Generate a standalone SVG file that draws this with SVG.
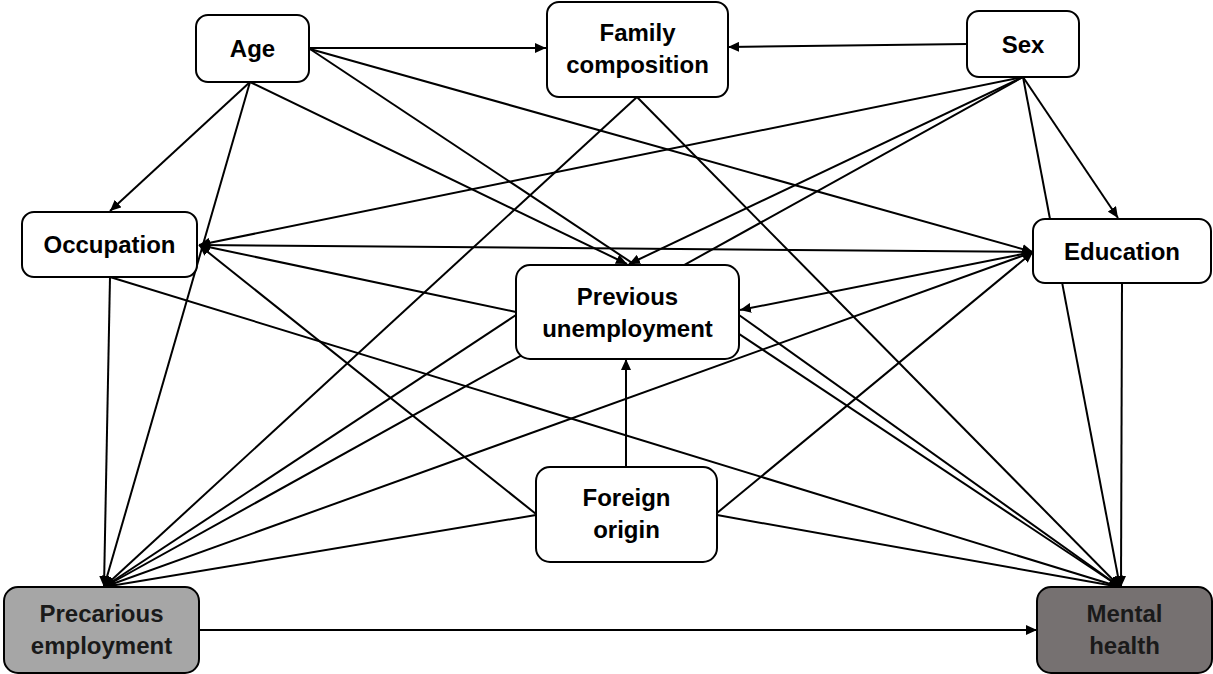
<svg xmlns="http://www.w3.org/2000/svg" width="1213" height="674" viewBox="0 0 1213 674">
<style>
.edge{stroke:#000;stroke-width:2;fill:none;marker-end:url(#arr)}
.box{stroke:#000;stroke-width:2;fill:#fff}
.lbl{font-family:"Liberation Sans",Arial,sans-serif;font-weight:bold;font-size:24px;fill:#000;text-anchor:middle}
</style>
<defs>
<marker id="arr" markerUnits="userSpaceOnUse" markerWidth="12" markerHeight="10" refX="11" refY="5" orient="auto">
<path d="M0,0 L11,5 L0,10 z" fill="#000"/>
</marker>
</defs>
<rect width="1213" height="674" fill="#fff"/>
<g id="connectors">
<line class="edge" x1="309" y1="48" x2="546" y2="48"/>
<line class="edge" x1="967" y1="44" x2="728" y2="47"/>
<line class="edge" x1="250" y1="82" x2="110" y2="211"/>
<line class="edge" x1="250" y1="82" x2="104" y2="587"/>
<line class="edge" x1="250" y1="82" x2="627" y2="264"/>
<line class="edge" x1="310" y1="49" x2="1033" y2="252"/>
<line class="edge" x1="310" y1="49" x2="1120" y2="587"/>
<line class="edge" x1="1023" y1="77" x2="199" y2="245"/>
<line class="edge" x1="1023" y1="77" x2="629" y2="264"/>
<line class="edge" x1="1023" y1="77" x2="104" y2="587"/>
<line class="edge" x1="1023" y1="77" x2="1120" y2="587"/>
<line class="edge" x1="1023" y1="77" x2="1118" y2="218"/>
<line class="edge" x1="637" y1="97" x2="104" y2="587"/>
<line class="edge" x1="637" y1="97" x2="1120" y2="587"/>
<line class="edge" x1="1033" y1="252" x2="199" y2="245"/>
<line class="edge" x1="1033" y1="252" x2="740" y2="310"/>
<line class="edge" x1="1033" y1="252" x2="104" y2="587"/>
<line class="edge" x1="1122" y1="283" x2="1121" y2="587"/>
<line class="edge" x1="516" y1="312" x2="199" y2="245"/>
<line class="edge" x1="516" y1="315" x2="104" y2="587"/>
<line class="edge" x1="739" y1="315" x2="1120" y2="587"/>
<line class="edge" x1="626" y1="467" x2="626" y2="359"/>
<line class="edge" x1="536" y1="514" x2="199" y2="245"/>
<line class="edge" x1="717" y1="513" x2="1033" y2="252"/>
<line class="edge" x1="536" y1="515" x2="104" y2="587"/>
<line class="edge" x1="717" y1="515" x2="1120" y2="587"/>
<line class="edge" x1="110" y1="277" x2="104" y2="587"/>
<line class="edge" x1="110" y1="277" x2="1120" y2="587"/>
<line class="edge" x1="199" y1="630" x2="1037" y2="630"/>
</g>
<g id="age">
<rect class="box" x="196" y="15" width="113" height="67" rx="12"/>
<text class="lbl" x="252.5" y="57">Age</text>
</g>
<g id="family">
<rect class="box" x="547" y="2" width="181" height="95" rx="12"/>
<text class="lbl" x="637.5" y="41">Family</text>
<text class="lbl" x="637.5" y="73">composition</text>
</g>
<g id="sex">
<rect class="box" x="967" y="11" width="112" height="66" rx="12"/>
<text class="lbl" x="1023" y="52.5">Sex</text>
</g>
<g id="occupation">
<rect class="box" x="22" y="212" width="175" height="65" rx="12"/>
<text class="lbl" x="109.5" y="253">Occupation</text>
</g>
<g id="education">
<rect class="box" x="1033" y="219" width="178" height="64" rx="12"/>
<text class="lbl" x="1122" y="259.5">Education</text>
</g>
<g id="previous">
<rect class="box" x="516" y="265" width="223" height="94" rx="14"/>
<text class="lbl" x="627.5" y="305">Previous</text>
<text class="lbl" x="627.5" y="337">unemployment</text>
</g>
<g id="foreign">
<rect class="box" x="536" y="467" width="181" height="95" rx="14"/>
<text class="lbl" x="626.5" y="506">Foreign</text>
<text class="lbl" x="626.5" y="538">origin</text>
</g>
<g id="precarious">
<rect class="box" x="4" y="587" width="195" height="86" rx="14" style="fill:#a6a6a6"/>
<text class="lbl" x="101.5" y="622" style="fill:#1a1a1a">Precarious</text>
<text class="lbl" x="101.5" y="654" style="fill:#1a1a1a">employment</text>
</g>
<g id="mental">
<rect class="box" x="1037" y="587" width="175" height="86" rx="14" style="fill:#767171"/>
<text class="lbl" x="1124.5" y="622" style="fill:#1a1a1a">Mental</text>
<text class="lbl" x="1124.5" y="654" style="fill:#1a1a1a">health</text>
</g>
</svg>
